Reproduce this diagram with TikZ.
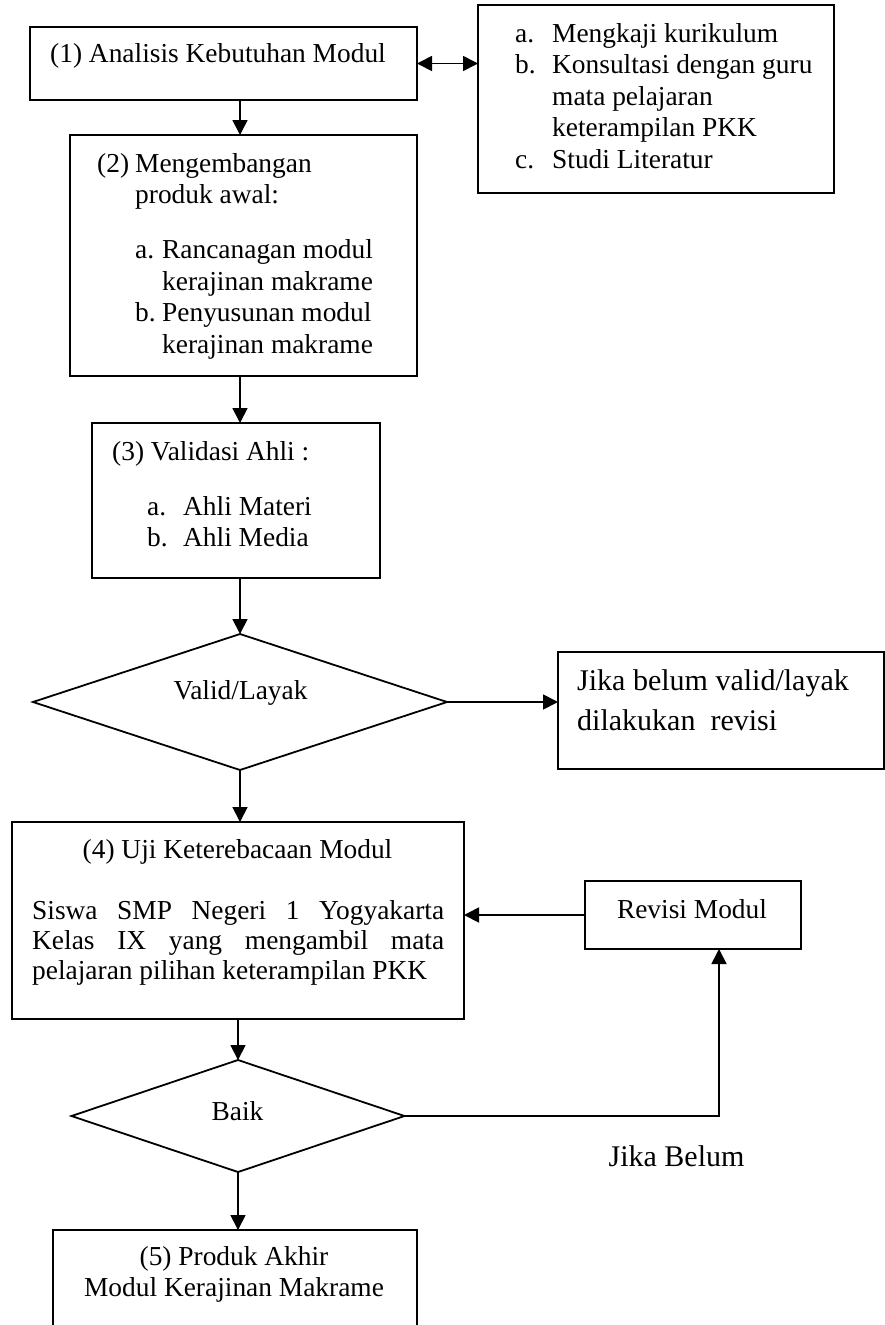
\documentclass[tikz,border=0pt]{standalone}
\usepackage{fontspec}
\setmainfont{Liberation Serif}
\usepackage{tikz}
\usetikzlibrary{arrows.meta,shapes.geometric}
\hyphenpenalty=10000
\tolerance=9999

\begin{document}
\begin{tikzpicture}[x=1pt,y=-1pt,
	kotak/.style={draw,line width=1.8pt,anchor=north west,inner sep=0pt,outer sep=0pt},
	belah/.style={draw,diamond,aspect=3,line width=1.8pt,inner sep=0pt,outer sep=0pt},
	teks/.style={inner sep=0pt,align=left,anchor=north west,font=\fontsize{27.4}{31.5}\selectfont},
	label/.style={inner sep=0pt,anchor=base,font=\fontsize{27.4}{31.5}\selectfont},
	panah/.style={line width=1.8pt,-{Triangle[length=15pt,width=15pt]}},
	panahdua/.style={line width=1.8pt,{Triangle[length=15pt,width=15pt]}-{Triangle[length=15pt,width=15pt]}},
	]
	\useasboundingbox (0,0) rectangle (885,1325);
	\coordinate (sumbu) at (240,0);

	\node[kotak,minimum width=387pt,minimum height=73pt] (analisis) at (30,27) {};
	\node[teks] (t-analisis) at (50,40) {\strut(1) Analisis Kebutuhan Modul};

	\node[kotak,minimum width=356pt,minimum height=188pt] (kajian) at (478,5) {};
	\node[teks] (t-kajian) at (515,20) {\strut\makebox[37pt][l]{a.}Mengkaji kurikulum\\
		\makebox[37pt][l]{b.}Konsultasi dengan guru\\
		\hspace*{37pt}mata pelajaran\\
		\hspace*{37pt}keterampilan PKK\\
		\makebox[37pt][l]{c.}Studi Literatur};

	\node[kotak,minimum width=347pt,minimum height=241pt] (pengembangan) at (70,135) {};
	\node[teks] (t-pengembangan) at (97,150) {\strut\makebox[38pt][l]{(2)}Mengembangan\\
		\hspace*{38pt}produk awal:\\[23.5pt]
		\hspace*{38pt}\makebox[27pt][l]{a.}Rancanagan modul\\
		\hspace*{65pt}kerajinan makrame\\
		\hspace*{38pt}\makebox[27pt][l]{b.}Penyusunan modul\\
		\hspace*{65pt}kerajinan makrame};

	\node[kotak,minimum width=288pt,minimum height=155pt] (validasi) at (92,423) {};
	\node[teks] (t-validasi) at (112,438) {\strut(3) Validasi Ahli :\\[23.5pt]
		\hspace*{35pt}\makebox[36pt][l]{a.}Ahli Materi\\
		\hspace*{35pt}\makebox[36pt][l]{b.}Ahli Media};

	\node[belah,minimum width=414pt,minimum height=136pt] (valid) at (240,702) {};
	\node[label] (t-valid) at (240.5,699) {Valid/Layak};

	\node[kotak,minimum width=326pt,minimum height=117pt] (jika) at (558,652) {};
	\node[teks,font=\fontsize{30}{40}\selectfont] (t-jika) at (577,662) {\strut Jika belum valid/layak\\dilakukan\ \ revisi};

	\node[kotak,minimum width=452pt,minimum height=197pt] (uji) at (12,822) {};
	\node[label] (t-uji) at (237.5,858) {(4) Uji Keterebacaan Modul};
	\node[teks,text width=412pt,align=justify,font=\fontsize{27.4}{30}\selectfont] (t-siswa) at (32,898)
		{\strut Siswa SMP Negeri 1 Yogyakarta Kelas IX yang mengambil mata pelajaran pilihan keterampilan PKK};

	\node[kotak,minimum width=216pt,minimum height=68pt] (revisi) at (585,881) {};
	\node[label] (t-revisi) at (692,918) {Revisi Modul};

	\node[belah,minimum width=333pt,minimum height=112pt] (baik) at (238,1116) {};
	\node[label] (t-baik) at (237.5,1120) {Baik};
	\node[label,font=\fontsize{30}{40}\selectfont] (t-belum) at (676.5,1166) {Jika Belum};

	\node[kotak,minimum width=364pt,minimum height=115pt] (produk) at (53,1230) {};
	\node[teks,anchor=north,align=center] (t-produk) at (234,1243) {\strut(5) Produk Akhir\\Modul Kerajinan Makrame};

	\draw[panahdua] (analisis.east) -- (analisis.east -| kajian.west);
	\draw[panah] (analisis.south -| sumbu) -- (pengembangan.north -| sumbu);
	\draw[panah] (pengembangan.south -| sumbu) -- (validasi.north -| sumbu);
	\draw[panah] (validasi.south -| sumbu) -- (valid.north);
	\draw[panah] (valid.east) -- (valid.east -| jika.west);
	\draw[panah] (valid.south) -- (valid.south |- uji.north);
	\draw[panah] (revisi.west) -- (revisi.west -| uji.east);
	\draw[panah] (uji.south -| baik.north) -- (baik.north);
	\draw[panah] (baik.south) -- (baik.south |- produk.north);
	\draw[panah] (baik.east) -| ([xshift=26pt]revisi.south);
\end{tikzpicture}
\end{document}
